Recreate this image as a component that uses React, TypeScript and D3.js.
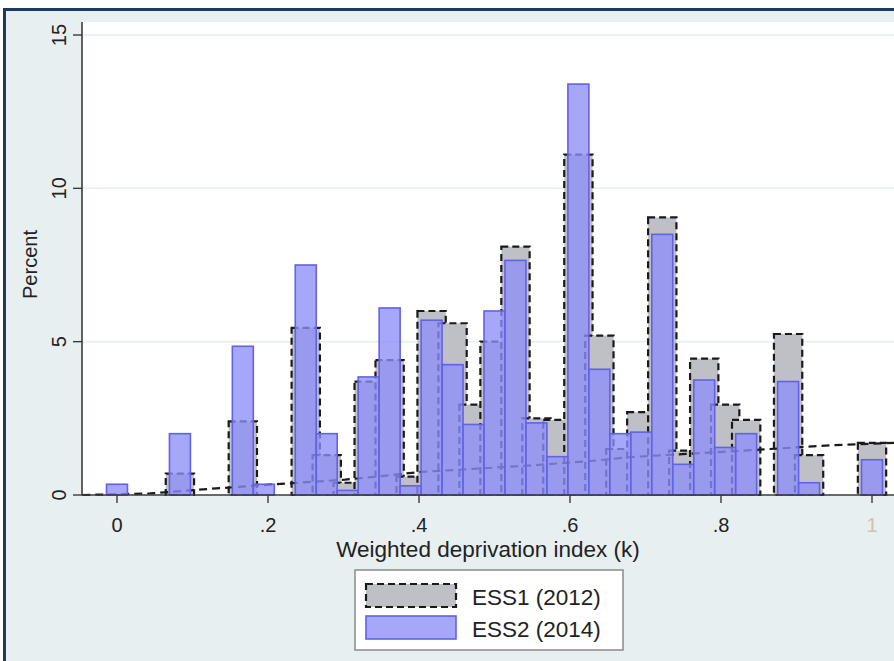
import * as d3 from 'd3';
import React, { useRef, useEffect } from 'react';

// bins are centred on k/36, k = 0..36
const binCount = 37;
const binWidth = 1 / 36;

const ess1Percent = [
  0, 0, 0, 0.7, 0, 0, 2.4, 0, 0, 5.45, 1.3, 0.4, 3.7, 4.4, 0.6, 6.0, 5.6, 2.95, 5.0,
  8.1, 2.5, 2.45, 11.1, 5.2, 1.5, 2.7, 9.05, 1.45, 4.45, 2.95, 2.45, 0, 5.25, 1.3, 0, 0, 1.7,
];

const ess2Percent = [
  0.35, 0, 0, 2.0, 0, 0, 4.85, 0.35, 0, 7.5, 2.0, 0.15, 3.85, 6.1, 0.3, 5.7, 4.25, 2.3, 6.0,
  7.65, 2.35, 1.25, 13.4, 4.1, 2.0, 2.05, 8.5, 1.0, 3.75, 1.55, 2.0, 0, 3.7, 0.4, 0, 0, 1.15,
];

// dashed overlay line
const lineX = [-0.046, 0.044, 0.123, 0.209, 0.302, 0.344, 0.401, 0.54, 0.624, 0.682, 0.795, 0.865, 0.944, 1.03];
const lineY = [0, 0.05, 0.2, 0.35, 0.5, 0.6, 0.75, 0.95, 1.1, 1.24, 1.4, 1.5, 1.62, 1.7];

const xTicks = [0, 0.2, 0.4, 0.6, 0.8, 1];
const xTickLabels = ['0', '.2', '.4', '.6', '.8', '1'];
const yTicks = [0, 5, 10, 15];
const legendLabels = ['ESS1 (2012)', 'ESS2 (2014)'];

const W = 894;
const H = 661;
const plot = { left: 82, right: 894, top: 22, bottom: 495 };
const font = '"Liberation Sans", Arial, Helvetica, sans-serif';

const greyFill = '#bfc0c6';
const blueFill = 'rgba(142,142,248,0.78)';
const blueLine = '#6262e6';

const App = () => {
  const containerRef = useRef<HTMLDivElement>(null);

  useEffect(() => {
    if (!containerRef.current) return;
    d3.select(containerRef.current).selectAll('*').remove();

    const svg = d3
      .select(containerRef.current)
      .append('svg')
      .attr('width', W)
      .attr('height', H)
      .style('position', 'absolute')
      .style('left', 0)
      .style('top', 0)
      .style('font-family', font);

    const x = d3.scaleLinear().domain([0, 1]).range([117, 872]);
    const y = d3.scaleLinear().domain([0, 15]).range([495, 35]);

    // backgrounds + frame
    svg.append('rect').attr('width', W).attr('height', H).attr('fill', '#fff');
    svg.append('rect').attr('x', 5).attr('y', 11).attr('width', W - 5).attr('height', H - 11).attr('fill', '#e8eff1');
    svg.append('line').attr('x1', 3).attr('x2', W).attr('y1', 9.5).attr('y2', 9.5).attr('stroke', '#1d3a5f').attr('stroke-width', 3);
    svg.append('line').attr('x1', 4.5).attr('x2', 4.5).attr('y1', 8).attr('y2', H).attr('stroke', '#1d3a5f').attr('stroke-width', 3);
    svg
      .append('rect')
      .attr('x', plot.left)
      .attr('y', plot.top)
      .attr('width', plot.right - plot.left)
      .attr('height', plot.bottom - plot.top)
      .attr('fill', '#fff');

    // grid
    svg
      .append('g')
      .selectAll('line')
      .data(yTicks.filter((d) => d > 0))
      .join('line')
      .attr('x1', plot.left)
      .attr('x2', plot.right)
      .attr('y1', (d) => y(d))
      .attr('y2', (d) => y(d))
      .attr('stroke', '#e6eef0')
      .attr('stroke-width', 1.5);

    const bins = d3.range(binCount);
    const greyW = binWidth * 1.35;

    // ESS1 bars
    svg
      .append('g')
      .selectAll('rect')
      .data(bins.filter((k) => ess1Percent[k] > 0))
      .join('rect')
      .attr('x', (k) => x(k * binWidth - greyW / 2))
      .attr('width', (k) => x(k * binWidth + greyW / 2) - x(k * binWidth - greyW / 2))
      .attr('y', (k) => y(ess1Percent[k]))
      .attr('height', (k) => y(0) - y(ess1Percent[k]))
      .attr('fill', greyFill)
      .attr('stroke', '#1a1a1a')
      .attr('stroke-width', 2.2)
      .attr('stroke-dasharray', '7,4');

    // overlay line
    const line = d3
      .line<number>()
      .x((d, i) => x(lineX[i]))
      .y((d) => y(d));
    svg
      .append('path')
      .attr('d', line(lineY))
      .attr('fill', 'none')
      .attr('stroke', '#1a1a1a')
      .attr('stroke-width', 2.2)
      .attr('stroke-dasharray', '8,5');

    // ESS2 bars
    svg
      .append('g')
      .selectAll('rect')
      .data(bins.filter((k) => ess2Percent[k] > 0))
      .join('rect')
      .attr('x', (k) => x(k * binWidth - binWidth / 2))
      .attr('width', x(binWidth) - x(0))
      .attr('y', (k) => y(ess2Percent[k]))
      .attr('height', (k) => y(0) - y(ess2Percent[k]))
      .attr('fill', blueFill)
      .attr('stroke', blueLine)
      .attr('stroke-width', 1.6);

    // axes
    const axisColor = '#3a3a3a';
    svg.append('line').attr('x1', plot.left).attr('x2', plot.left).attr('y1', plot.top).attr('y2', plot.bottom).attr('stroke', axisColor).attr('stroke-width', 1.6);
    svg.append('line').attr('x1', plot.left).attr('x2', plot.right).attr('y1', plot.bottom).attr('y2', plot.bottom).attr('stroke', axisColor).attr('stroke-width', 1.6);

    const yAxis = svg.append('g');
    yAxis
      .selectAll('line')
      .data(yTicks)
      .join('line')
      .attr('x1', plot.left - 9)
      .attr('x2', plot.left)
      .attr('y1', (d) => y(d))
      .attr('y2', (d) => y(d))
      .attr('stroke', axisColor)
      .attr('stroke-width', 1.4);
    yAxis
      .selectAll('text')
      .data(yTicks)
      .join('text')
      .attr('transform', (d) => `translate(${plot.left - 16},${y(d)}) rotate(-90)`)
      .attr('text-anchor', 'middle')
      .attr('font-size', 20)
      .attr('fill', '#222')
      .text((d) => String(d));

    svg
      .append('text')
      .attr('transform', `translate(37,${(plot.top + plot.bottom) / 2 + 6}) rotate(-90)`)
      .attr('text-anchor', 'middle')
      .attr('font-size', 20)
      .attr('fill', '#222')
      .text('Percent');

    const xAxis = svg.append('g');
    xAxis
      .selectAll('line')
      .data(xTicks)
      .join('line')
      .attr('x1', (d) => x(d))
      .attr('x2', (d) => x(d))
      .attr('y1', plot.bottom)
      .attr('y2', plot.bottom + 8)
      .attr('stroke', axisColor)
      .attr('stroke-width', 1.4);
    xAxis
      .selectAll('text')
      .data(xTicks)
      .join('text')
      .attr('x', (d) => x(d))
      .attr('y', 532)
      .attr('text-anchor', 'middle')
      .attr('font-size', 20)
      .attr('fill', (d, i) => (i === xTicks.length - 1 ? '#c9c7a8' : '#222'))
      .text((d, i) => xTickLabels[i]);

    svg
      .append('text')
      .attr('x', (plot.left + plot.right) / 2)
      .attr('y', 557)
      .attr('text-anchor', 'middle')
      .attr('font-size', 22.5)
      .attr('fill', '#222')
      .text('Weighted deprivation index (k)');

    // legend
    const lg = svg.append('g');
    lg.append('rect').attr('x', 355).attr('y', 570).attr('width', 268).attr('height', 80).attr('fill', '#fff').attr('stroke', '#8a8a8a').attr('stroke-width', 1.5);
    const swatches = [
      { fill: greyFill, stroke: '#1a1a1a', dash: '7,4', sw: 2.2 },
      { fill: blueFill, stroke: blueLine, dash: null, sw: 1.6 },
    ];
    legendLabels.forEach((label, i) => {
      const s = swatches[i];
      lg.append('rect')
        .attr('x', 366)
        .attr('y', 584 + i * 32)
        .attr('width', 90)
        .attr('height', 23)
        .attr('fill', s.fill)
        .attr('stroke', s.stroke)
        .attr('stroke-width', s.sw)
        .attr('stroke-dasharray', s.dash);
      lg.append('text')
        .attr('x', 472)
        .attr('y', 605 + i * 32)
        .attr('font-size', 22.5)
        .attr('fill', '#222')
        .text(label);
    });
  }, [containerRef]);

  return <div ref={containerRef}></div>;
};

export default App;
